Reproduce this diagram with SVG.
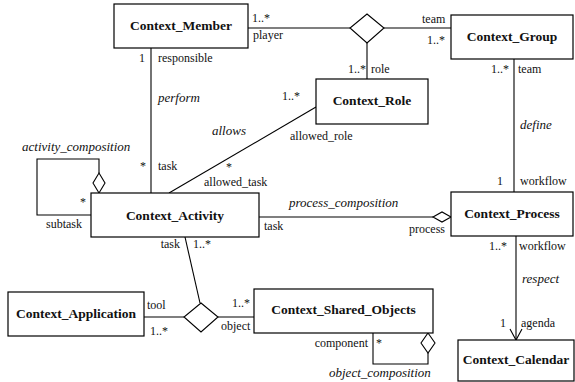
<svg xmlns="http://www.w3.org/2000/svg" width="575" height="382" viewBox="0 0 575 382">
<style>
.box{fill:#fff;stroke:#000;stroke-width:1.2}
.name{font-weight:bold;font-size:13.5px;text-anchor:middle}
.lbl{font-size:12px}
.it{font-style:italic;font-size:13px}
.r{text-anchor:end}
.ln{fill:none;stroke:#000;stroke-width:1.1}
.dia{fill:#fff;stroke:#000;stroke-width:1.1}
</style>
<rect width="575" height="382" fill="#fff"/>
<g id="connectors" font-family="Liberation Serif, serif" fill="#111">
  <line class="ln" x1="248" y1="28" x2="350" y2="28"/>
  <line class="ln" x1="384" y1="28" x2="451" y2="28"/>
  <line class="ln" x1="367" y1="43" x2="367" y2="79"/>
  <polygon class="dia" points="367,14 384,28 367,43 350,28"/>
  <line class="ln" x1="151" y1="48" x2="151" y2="193"/>
  <line class="ln" x1="169" y1="193" x2="316" y2="107"/>
  <polyline class="ln" points="91,215 37,215 37,159 99,159 99,173"/>
  <polygon class="dia" points="99,173 105,183 99,193 93,183"/>
  <line class="ln" x1="259" y1="217" x2="433" y2="217"/>
  <polygon class="dia" points="433,217 442,212 451,217 442,222"/>
  <line class="ln" x1="514" y1="59" x2="514" y2="192"/>
  <line class="ln" x1="516" y1="236" x2="516" y2="340"/>
  <polyline class="ln" points="510,329 516,340 522,329"/>
  <line class="ln" x1="185" y1="237" x2="200" y2="303"/>
  <line class="ln" x1="144" y1="317" x2="184" y2="317"/>
  <line class="ln" x1="218" y1="317" x2="254" y2="317"/>
  <polygon class="dia" points="201,303 218,317 201,332 184,317"/>
  <polyline class="ln" points="373,333 373,364 428,364 428,353"/>
  <polygon class="dia" points="428,333 435,343 428,353 421,343"/>

  <text class="lbl" x="252" y="22">1..*</text>
  <text class="lbl" x="253" y="39">player</text>
  <text class="lbl" x="422" y="23">team</text>
  <text class="lbl" x="427" y="44">1..*</text>
  <text class="lbl r" x="366" y="73">1..*</text>
  <text class="lbl" x="371" y="73">role</text>
  <text class="lbl r" x="145" y="62">1</text>
  <text class="lbl" x="158" y="62">responsible</text>
  <text class="it" x="158" y="102">perform</text>
  <text class="lbl r" x="146" y="170">*</text>
  <text class="lbl" x="158" y="170">task</text>
  <text class="lbl" x="282" y="100">1..*</text>
  <text class="it" x="212" y="135">allows</text>
  <text class="lbl" x="290" y="140">allowed_role</text>
  <text class="lbl" x="226" y="171">*</text>
  <text class="lbl" x="204" y="186">allowed_task</text>
  <text class="it" x="22" y="151">activity_composition</text>
  <text class="lbl" x="80" y="206">*</text>
  <text class="lbl" x="46" y="228">subtask</text>
  <text class="lbl r" x="509" y="73">1..*</text>
  <text class="lbl" x="518" y="73">team</text>
  <text class="it" x="520" y="129">define</text>
  <text class="lbl r" x="503" y="185">1</text>
  <text class="lbl" x="520" y="185">workflow</text>
  <text class="it" x="289" y="207">process_composition</text>
  <text class="lbl" x="264" y="230">task</text>
  <text class="lbl r" x="445" y="233">process</text>
  <text class="lbl r" x="507" y="250">1..*</text>
  <text class="lbl" x="519" y="250">workflow</text>
  <text class="it" x="522" y="283">respect</text>
  <text class="lbl r" x="506" y="327">1</text>
  <text class="lbl" x="521" y="327">agenda</text>
  <text class="lbl r" x="180" y="248">task</text>
  <text class="lbl" x="193" y="248">1..*</text>
  <text class="lbl" x="147" y="309">tool</text>
  <text class="lbl" x="150" y="335">1..*</text>
  <text class="lbl" x="232" y="307">1..*</text>
  <text class="lbl" x="221" y="330">object</text>
  <text class="lbl r" x="368" y="347">component</text>
  <text class="lbl" x="376" y="347">*</text>
  <text class="it" x="329" y="377">object_composition</text>
</g>
<g id="Context_Member" font-family="Liberation Serif, serif" fill="#111"><rect class="box" x="114" y="4" width="134" height="44"/><text class="name" x="181" y="30">Context_Member</text></g>
<g id="Context_Group" font-family="Liberation Serif, serif" fill="#111"><rect class="box" x="451" y="15" width="122" height="44"/><text class="name" x="512" y="41">Context_Group</text></g>
<g id="Context_Role" font-family="Liberation Serif, serif" fill="#111"><rect class="box" x="316" y="79" width="112" height="45"/><text class="name" x="372" y="105">Context_Role</text></g>
<g id="Context_Activity" font-family="Liberation Serif, serif" fill="#111"><rect class="box" x="91" y="193" width="168" height="44"/><text class="name" x="175" y="220">Context_Activity</text></g>
<g id="Context_Process" font-family="Liberation Serif, serif" fill="#111"><rect class="box" x="451" y="192" width="122" height="44"/><text class="name" x="512" y="218">Context_Process</text></g>
<g id="Context_Application" font-family="Liberation Serif, serif" fill="#111"><rect class="box" x="8" y="292" width="136" height="44"/><text class="name" x="76" y="318">Context_Application</text></g>
<g id="Context_Shared_Objects" font-family="Liberation Serif, serif" fill="#111"><rect class="box" x="254" y="289" width="179" height="44"/><text class="name" x="343.5" y="314">Context_Shared_Objects</text></g>
<g id="Context_Calendar" font-family="Liberation Serif, serif" fill="#111"><rect class="box" x="458" y="340" width="116" height="41"/><text class="name" x="516" y="364">Context_Calendar</text></g>
</svg>
